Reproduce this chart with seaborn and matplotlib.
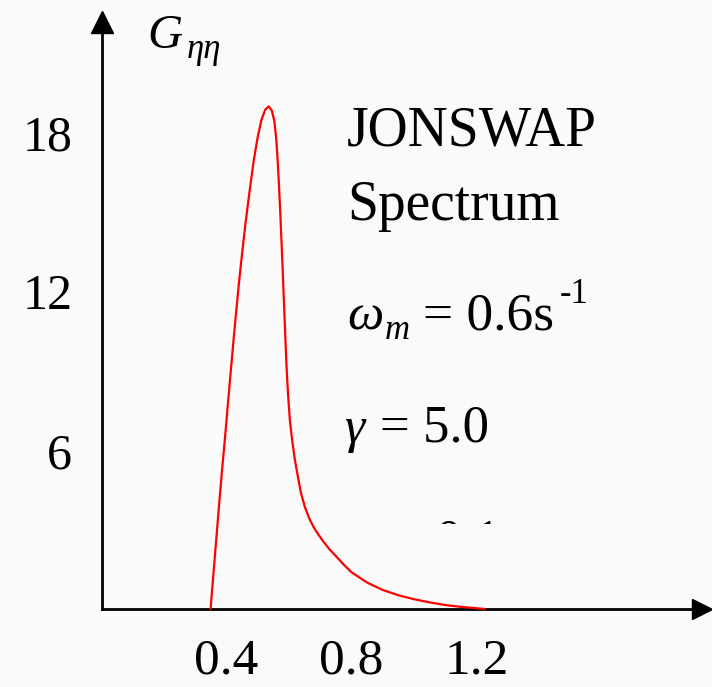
import matplotlib
matplotlib.use("Agg")
import matplotlib.pyplot as plt
import seaborn as sns
from matplotlib.transforms import Bbox, TransformedBbox

# ---- data ----
omega = [0.349, 0.358, 0.367, 0.376, 0.385, 0.395, 0.404, 0.413, 0.422, 0.431,
         0.440, 0.450, 0.461, 0.474, 0.487, 0.500, 0.512, 0.524, 0.535, 0.545,
         0.553, 0.559, 0.564, 0.568, 0.572, 0.576, 0.580, 0.584, 0.588, 0.592,
         0.597, 0.603, 0.610, 0.618, 0.627, 0.638, 0.651, 0.665, 0.680, 0.695,
         0.710, 0.730, 0.750, 0.775, 0.800, 0.850, 0.900, 0.950, 1.000, 1.050,
         1.100, 1.150, 1.200, 1.227]
G = [0.0, 1.3, 2.6, 3.9, 5.15, 6.45, 7.7, 8.9, 10.1, 11.25,
     12.35, 13.45, 14.6, 15.8, 16.95, 17.85, 18.5, 18.88, 19.0, 18.85,
     18.45, 17.8, 16.9, 16.0, 15.0, 13.9, 12.75, 11.55, 10.35, 9.2,
     8.1, 7.1, 6.4, 5.7, 5.1, 4.4, 3.85, 3.42, 3.07, 2.8,
     2.55, 2.25, 2.0, 1.68, 1.39, 1.0, 0.72, 0.52, 0.37, 0.25,
     0.15, 0.08, 0.03, 0.0]
x_ticks = [0.4, 0.8, 1.2, 1.6]
x_tick_labels = ["0.4", "0.8", "1.2", ""]
y_ticks = [6, 12, 18]
y_tick_labels = ["6", "12", "18"]

sns.set_theme(style="white")
plt.rcParams["font.family"] = ["Liberation Serif", "DejaVu Serif"]

W, H = 712, 687
BG = "#fafafa"
fig = plt.figure(figsize=(W / 100, H / 100), dpi=100, facecolor=BG)

x0_px, y0_px = 101.5, 609.0
ax = fig.add_axes([x0_px / W, (H - y0_px) / H, (W - x0_px) / W, y0_px / H])
ax.set_facecolor(BG)

sns.lineplot(x=omega, y=G, color="#ff0000", linewidth=1.6, ax=ax,
             estimator=None, sort=False, zorder=5, clip_on=False)

ax.set_xlim(0, (W - x0_px) / 312.5)
ax.set_ylim(0, y0_px / 26.45)

for s in ["top", "right"]:
    ax.spines[s].set_visible(False)
for s in ["left", "bottom"]:
    ax.spines[s].set_color("black")
    ax.spines[s].set_linewidth(2.0)
ax.spines["left"].set_bounds(0, 22.0)
ax.spines["bottom"].set_bounds(0, 1.90)

ax.set_xticks(x_ticks)
ax.set_xticklabels(x_tick_labels)
ax.set_yticks(y_ticks)
ax.set_yticklabels(y_tick_labels)
ax.tick_params(axis="both", direction="out", length=13, width=2, color="black",
               labelcolor="black")
ax.tick_params(axis="y", pad=8, labelsize=36)
ax.tick_params(axis="x", pad=8, labelsize=37)
ax.grid(False)
ax.set_xlabel("")
ax.set_ylabel("")

# arrow heads
ax.plot([0], [0.964], marker="^", ms=15.5, color="black", transform=ax.transAxes,
        clip_on=False, zorder=6)
ax.plot([0.984], [0], marker=">", ms=15, color="black", transform=ax.transAxes,
        clip_on=False, zorder=6)


def fx(px):
    return px / W


def fy(py):
    return 1 - py / H


def txt(px, py, s, size, style="normal", **kw):
    return fig.text(fx(px), fy(py), s, fontsize=size, fontstyle=style,
                    family=["Liberation Serif", "DejaVu Serif"],
                    ha="left", va="baseline", color="black", **kw)


# axis label G_eta eta
txt(147, 48, "G", 35, "italic")
txt(187, 58, "ηη", 25, "italic")

# annotations
txt(347, 145, "JONSWAP", 40)
txt(347, 220, "Spectrum", 40)

txt(347, 329, "ω", 37, "italic")
txt(385, 339, "m", 25, "italic")
txt(423, 329, "= 0.6s", 38.5)
txt(560, 303, "-1", 25)

txt(344, 442, "γ", 37, "italic")
txt(380, 442, "= 5.0", 38)

# partially hidden line
t = txt(436, 554, "0.1", 37)
clip = TransformedBbox(Bbox([[fx(300), fy(524)], [fx(700), fy(500)]]),
                       fig.transFigure)
t.set_clip_box(clip)
t.set_clip_on(True)

fig.savefig("out.png", dpi=100, facecolor=BG)
